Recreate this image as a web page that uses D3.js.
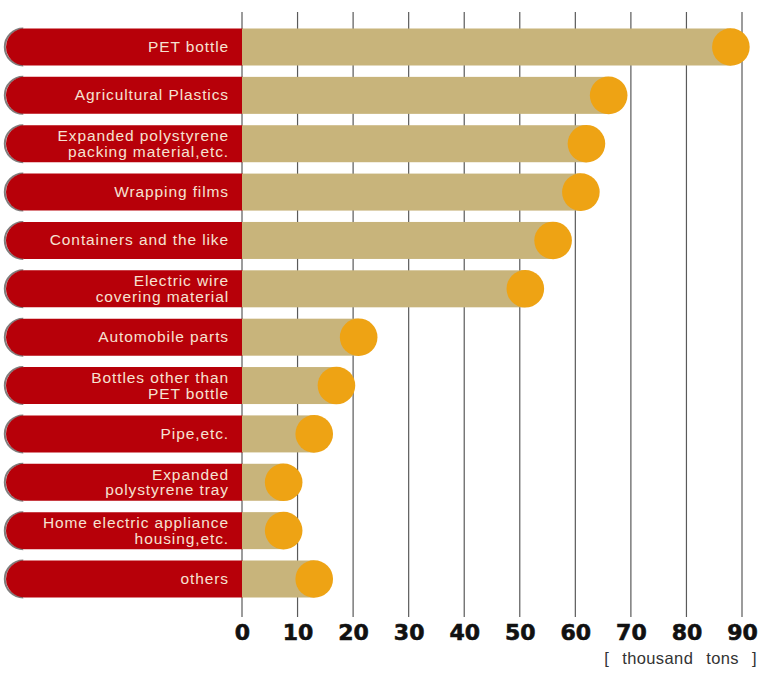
<!DOCTYPE html>
<html>
<head>
<meta charset="utf-8">
<script src="https://cdn.jsdelivr.net/npm/d3@7"></script>
<style>
  html, body { margin: 0; padding: 0; background: #fff; }
  svg { display: block; }
</style>
</head>
<body>
<svg id="chart" width="762" height="678"></svg>
<script>
// Plastic waste by product category (thousand tons)
const categories = [
  "PET bottle",
  "Agricultural Plastics",
  "Expanded polystyrene|packing material,etc.",
  "Wrapping films",
  "Containers and the like",
  "Electric wire|covering material",
  "Automobile parts",
  "Bottles other than|PET bottle",
  "Pipe,etc.",
  "Expanded|polystyrene tray",
  "Home electric appliance|housing,etc.",
  "others"
];
const values = [88, 66, 62, 61, 56, 51, 21, 17, 13, 7.5, 7.5, 13];
const tickValues = [0, 10, 20, 30, 40, 50, 60, 70, 80, 90];
const unitLabel = "[ thousand tons ]";

const RED = "#b70009", TAN = "#c8b47b", DOT = "#eea314", LABEL = "#f6e2d2";
const barH = 37, r = barH / 2;
const pillLeft = 6;

const svg = d3.select("#chart");
const x = d3.scaleLinear().domain([0, 90]).range([242, 742]);
const y = d3.scalePoint().domain(categories).range([47, 579]);

// vertical grid lines, drawn behind the bars
svg.append("g")
  .selectAll("line")
  .data(tickValues)
  .join("line")
  .attr("x1", d => x(d)).attr("x2", d => x(d))
  .attr("y1", 12).attr("y2", 617)
  .attr("stroke", "#5a5a5a")
  .attr("stroke-width", 1.2);

const rows = svg.append("g")
  .selectAll("g")
  .data(categories.map((c, i) => ({ c, v: values[i] })))
  .join("g")
  .attr("transform", d => `translate(0,${y(d.c)})`);

// faint dark rim on the rounded left end
rows.append("path")
  .attr("d", `M${pillLeft + r},${-r} A${r},${r} 0 0 0 ${pillLeft + r},${r}`)
  .attr("transform", "translate(-1.2,0)")
  .attr("fill", "none")
  .attr("stroke", "#2b2424")
  .attr("stroke-width", 2)
  .attr("opacity", 0.6);

// red label pill with a rounded left end
rows.append("path")
  .attr("d", `M${x(0) + 1},${-r} H${pillLeft + r} A${r},${r} 0 0 0 ${pillLeft + r},${r} H${x(0) + 1} Z`)
  .attr("fill", RED);

// tan value bar ending at the dot
rows.append("rect")
  .attr("x", x(0))
  .attr("y", -r)
  .attr("width", d => x(d.v) - x(0))
  .attr("height", barH)
  .attr("fill", TAN);

rows.append("circle")
  .attr("cx", d => x(d.v))
  .attr("cy", 0)
  .attr("r", r + 0.3)
  .attr("fill", DOT);

// category labels, right aligned inside the red pill
rows.append("text")
  .attr("text-anchor", "end")
  .attr("font-family", "'Liberation Sans', Arial, sans-serif")
  .attr("font-size", 15.5)
  .attr("letter-spacing", 0.9)
  .attr("fill", LABEL)
  .each(function (d) {
    const lines = d.c.split("|");
    const t = d3.select(this);
    const first = lines.length === 1 ? 5 : -2.5;
    lines.forEach((ln, k) => {
      t.append("tspan")
        .attr("x", 229)
        .attr("y", first + k * 15.5)
        .text(ln);
    });
  });

// bottom axis with heavy numerals
const axis = d3.axisBottom(x).tickValues(tickValues).tickSize(0).tickPadding(0);
const gAxis = svg.append("g").attr("transform", "translate(0,617)").call(axis);
gAxis.select(".domain").remove();
gAxis.selectAll("text")
  .attr("y", 22.5)
  .attr("dy", 0)
  .attr("font-family", "'DejaVu Sans', sans-serif")
  .attr("font-weight", "bold")
  .attr("font-size", 22)
  .attr("fill", "#111")
  .attr("stroke", "#111")
  .attr("stroke-width", 0.6);

svg.append("text")
  .attr("x", 757)
  .attr("y", 664)
  .attr("text-anchor", "end")
  .attr("font-family", "'Liberation Sans', Arial, sans-serif")
  .attr("font-size", 16.5)
  .attr("letter-spacing", 0.4)
  .attr("word-spacing", 8)
  .attr("fill", "#333")
  .text(unitLabel);
</script>
</body>
</html>
